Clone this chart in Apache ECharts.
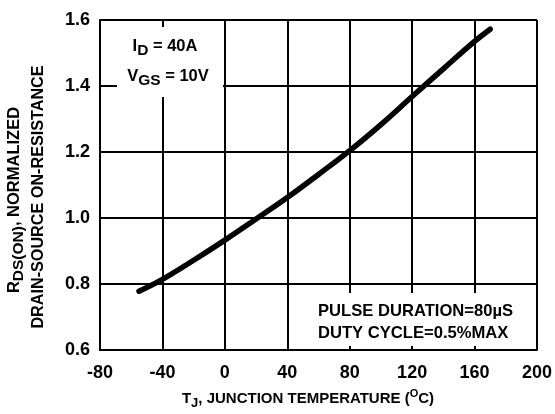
<!DOCTYPE html>
<html>
<head>
<meta charset="utf-8">
<script src="https://cdn.jsdelivr.net/npm/echarts@6/dist/echarts.min.js"></script>
<style>html,body{margin:0;padding:0;background:#fff;}#c{width:555px;height:414px;}</style>
</head>
<body>
<div id="c"></div>
<script>
const tempC = [-55, -40, -20, 0, 20, 40, 60, 80, 100, 120, 140, 160, 170];
const rdsNorm = [0.778, 0.814, 0.872, 0.933, 0.997, 1.062, 1.132, 1.204, 1.283, 1.368, 1.452, 1.535, 1.572];
const xTicks = [-80, -40, 0, 40, 80, 120, 160, 200];
const yTicks = ['0.6', '0.8', '1.0', '1.2', '1.4', '1.6'];

const FONT = '"Liberation Sans", Arial, sans-serif';
const chart = echarts.init(document.getElementById('c'), null, {renderer: 'canvas'});

function tok(size, extra) {
  return Object.assign({fontSize: size, fontWeight: 'bold', fontFamily: FONT, fill: '#000'}, extra || {});
}
const richMain = {
  m: tok(16.5, {lineHeight: 26}),
  s: tok(15.5, {lineHeight: 14, verticalAlign: 'bottom'})
};
const richX = {
  m: tok(15, {lineHeight: 22}),
  s: tok(13, {lineHeight: 13, verticalAlign: 'bottom'}),
  p: tok(11, {lineHeight: 11, verticalAlign: 'top'})
};

const option = {
  backgroundColor: '#fff',
  animation: false,
  grid: {left: 100, right: 17, top: 20, bottom: 64, show: false},
  xAxis: {
    type: 'value', min: xTicks[0], max: xTicks[xTicks.length - 1], interval: 40,
    axisLine: {show: true, onZero: false, lineStyle: {color: '#000', width: 2}},
    axisTick: {show: true, inside: true, length: 6, lineStyle: {color: '#000', width: 2}},
    splitLine: {show: true, lineStyle: {color: '#000', width: 2}},
    axisLabel: {margin: 14, color: '#000', fontSize: 18, fontWeight: 'bold', fontFamily: FONT}
  },
  yAxis: {
    type: 'value', min: 0.6, max: 1.6, interval: 0.2,
    axisLine: {show: true, onZero: false, lineStyle: {color: '#000', width: 2}},
    axisTick: {show: true, inside: true, length: 6, lineStyle: {color: '#000', width: 2}},
    splitLine: {show: true, lineStyle: {color: '#000', width: 2}},
    axisLabel: {margin: 10, color: '#000', fontSize: 18, fontWeight: 'bold', fontFamily: FONT,
      formatter: function (v) { return v.toFixed(1); }}
  },
  series: [{
    type: 'line',
    data: tempC.map((t, i) => [t, rdsNorm[i]]),
    smooth: 0.4,
    showSymbol: false,
    symbol: 'none',
    lineStyle: {color: '#000', width: 5.5, cap: 'round'},
    z: 3
  }],
  graphic: [
    {type: 'rect', z: 5, shape: {x: 117, y: 27, width: 106, height: 70}, style: {fill: '#fff'}},
    {type: 'rect', z: 5, shape: {x: 290, y: 293, width: 246, height: 53}, style: {fill: '#fff'}},
    {type: 'text', z: 6, x: 165, y: 46, style: {text: '{m|I}{s|D}{m| = 40A}', rich: richMain, textAlign: 'center', textVerticalAlign: 'middle'}},
    {type: 'text', z: 6, x: 168, y: 76, style: {text: '{m|V}{s|GS}{m| = 10V}', rich: richMain, textAlign: 'center', textVerticalAlign: 'middle'}},
    {type: 'text', z: 6, x: 318, y: 311, style: {text: 'PULSE DURATION=80µS', fill: '#000', fontSize: 16.6, fontWeight: 'bold', fontFamily: FONT, textAlign: 'left', textVerticalAlign: 'middle'}},
    {type: 'text', z: 6, x: 318, y: 333, style: {text: 'DUTY CYCLE=0.5%MAX', fill: '#000', fontSize: 16.6, fontWeight: 'bold', fontFamily: FONT, textAlign: 'left', textVerticalAlign: 'middle'}},
    {type: 'text', z: 6, x: 308, y: 399, style: {text: '{m|T}{s|J}{m|, JUNCTION TEMPERATURE (}{p|O}{m|C)}', rich: richX, textAlign: 'center', textVerticalAlign: 'middle'}},
    {type: 'text', z: 6, x: 14, y: 200, rotation: Math.PI / 2, style: {text: '{m|R}{s|DS(ON)}{m|, NORMALIZED}', rich: richMain, textAlign: 'center', textVerticalAlign: 'middle'}},
    {type: 'text', z: 6, x: 39, y: 197, rotation: Math.PI / 2, style: {text: 'DRAIN-SOURCE ON-RESISTANCE', fill: '#000', fontSize: 16.2, fontWeight: 'bold', fontFamily: FONT, textAlign: 'center', textVerticalAlign: 'middle'}}
  ]
};
chart.setOption(option);
</script>
</body>
</html>
